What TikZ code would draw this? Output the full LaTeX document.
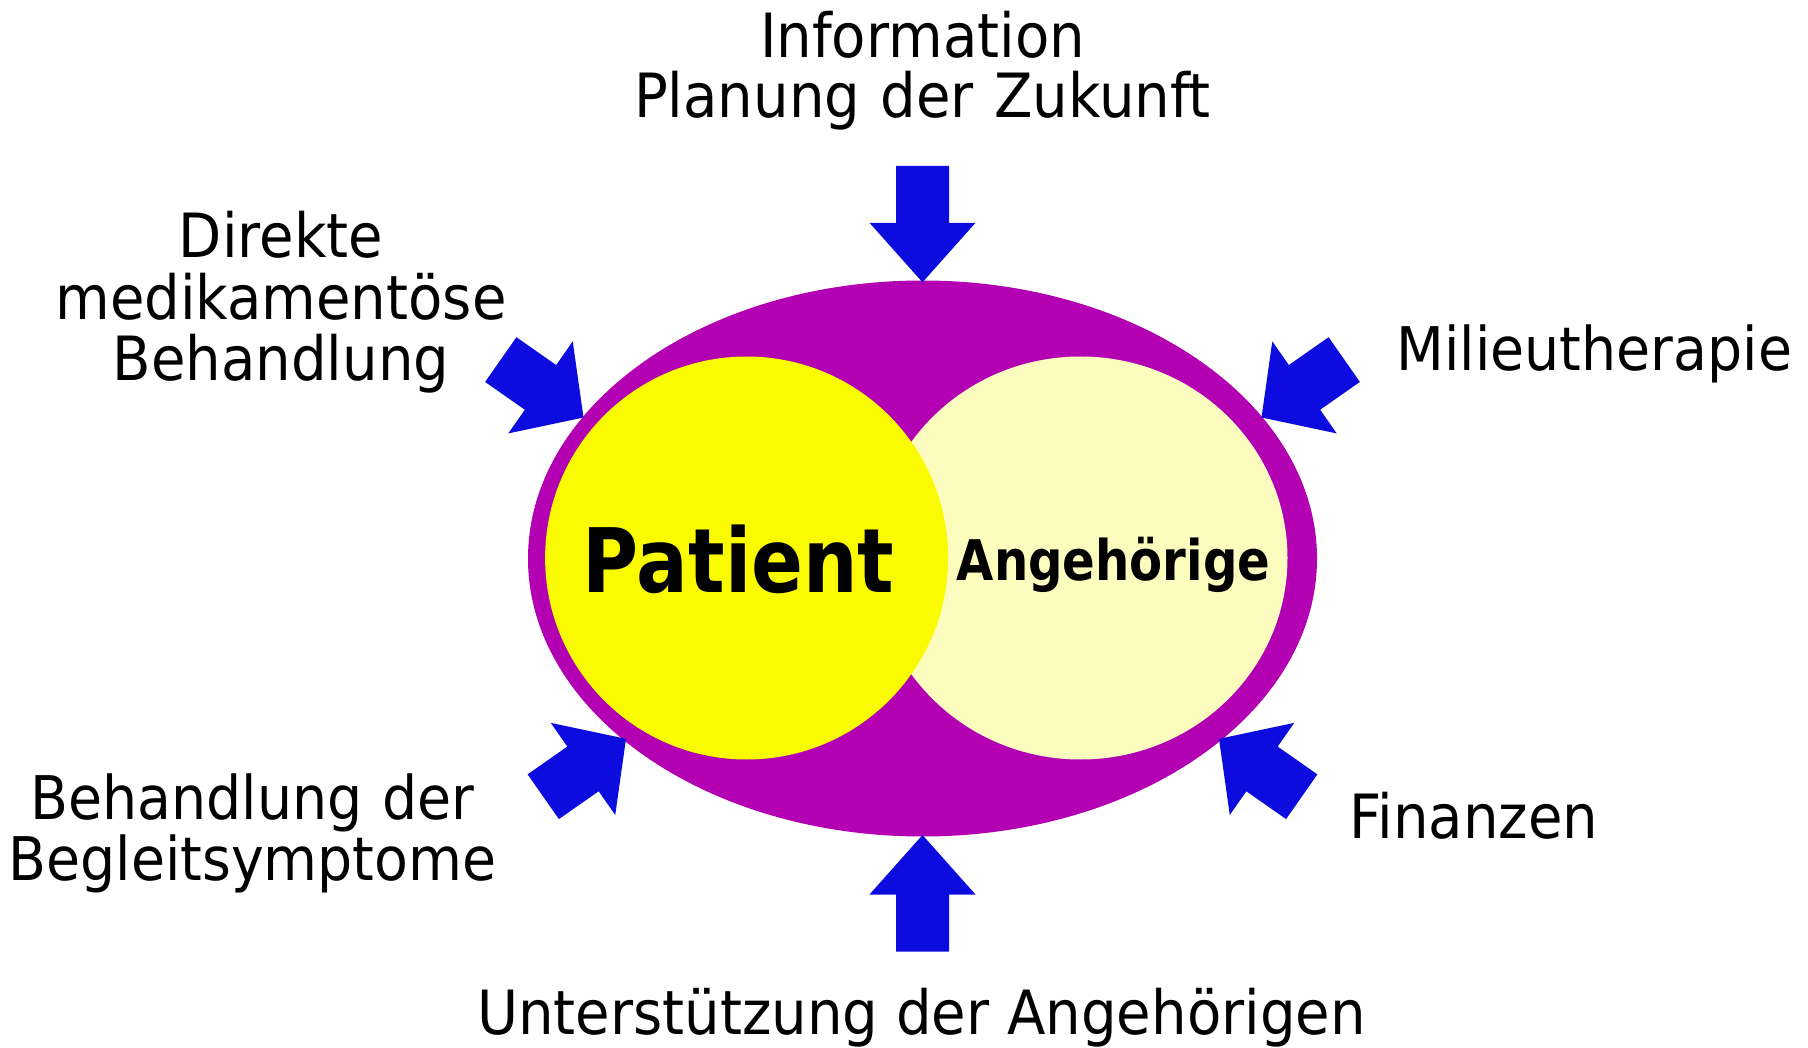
\documentclass[tikz,border=0pt]{standalone}
\usepackage{fontspec}
\setmainfont{DejaVu Sans}[FakeStretch=0.92]
\newfontfamily\corefont{DejaVu Sans}[FakeStretch=0.86]

\definecolor{rim}{RGB}{178,0,178}
\definecolor{patientfill}{RGB}{250,250,0}
\definecolor{relativesfill}{RGB}{252,252,190}
\definecolor{arrowblue}{RGB}{12,12,222}

% block arrow: tip coordinate, direction, total length, head length, half shaft width, half head width
\newcommand\blockarrowto[6]{%
  \fill[arrowblue, shift={(#1)}, rotate=#2]
    (0,0) -- (-#4,#6) -- (-#4,#5) -- (-#3,#5) -- (-#3,-#5) -- (-#4,-#5) -- (-#4,-#6) -- cycle;}

\tikzset{
  blob/.style={ellipse, inner sep=0pt, draw=none},
  outertext/.style={font=\fontsize{61}{61}\selectfont, inner sep=0pt, text=black},
  outerblock/.style={outertext, align=center, text width=640pt, anchor=base},
}
\usetikzlibrary{shapes.geometric}

\begin{document}
\begin{tikzpicture}[x=1pt, y=-1pt]
  \useasboundingbox (0,0) rectangle (1808,1048);

  % circle of care with patient and relatives
  \node[blob, fill=rim, minimum width=789pt, minimum height=556pt] (care) at (922.5,558.5) {};
  \node[blob, fill=relativesfill, minimum width=414pt, minimum height=403pt] (relatives) at (1080.5,558) {};
  \node[blob, fill=patientfill, minimum width=403pt, minimum height=403pt] (patient) at (746.6,558) {};

  \node[inner sep=0pt, anchor=base, font=\corefont\bfseries\fontsize{89}{89}\selectfont] (patienttext) at (738.6,592.5) {Patient};
  \node[inner sep=0pt, anchor=base, font=\corefont\bfseries\fontsize{56}{56}\selectfont] (relativestext) at (1113.5,580.5) {Angehörige};

  % points where the arrows meet the rim
  \coordinate (tipT)  at (922.5,282.3);
  \coordinate (tipB)  at (922.5,835);
  \coordinate (tipUL) at (583.5,417.5);
  \coordinate (tipUR) at (1261.5,417.5);
  \coordinate (tipLL) at (626,738.8);
  \coordinate (tipLR) at (1219,738.8);

  \blockarrowto{tipT}{-90}{116.5}{59.5}{26.5}{53}
  \blockarrowto{tipB}{90}{116.5}{59.5}{26.5}{53}
  \blockarrowto{tipUL}{-35}{101}{52.5}{27.3}{56.2}
  \blockarrowto{tipUR}{215}{101}{52.5}{27.3}{56.2}
  \blockarrowto{tipLL}{35}{101}{52.5}{27.3}{56.2}
  \blockarrowto{tipLR}{145}{101}{52.5}{27.3}{56.2}

  % surrounding measures
  \node[outerblock, font=\fontsize{61}{59.5}\selectfont] (info) at (922.5,58) {Information\\Planung der Zukunft};
  \node[outerblock, font=\fontsize{61}{61.5}\selectfont] (drugs) at (281,258) {Direkte\\medikamentöse\\Behandlung};
  \node[outertext, anchor=base west, font=\fontsize{60.2}{60}\selectfont] (milieu) at (1396.5,371) {Milieutherapie};
  \node[outerblock, font=\fontsize{60.2}{60.5}\selectfont] (symptoms) at (252.5,819.5) {Behandlung der\\Begleitsymptome};
  \node[outertext, anchor=base west] (finance) at (1349,838.3) {Finanzen};
  \node[outertext, anchor=base] (support) at (921.5,1034) {Unterstützung der Angehörigen};
\end{tikzpicture}
\end{document}
